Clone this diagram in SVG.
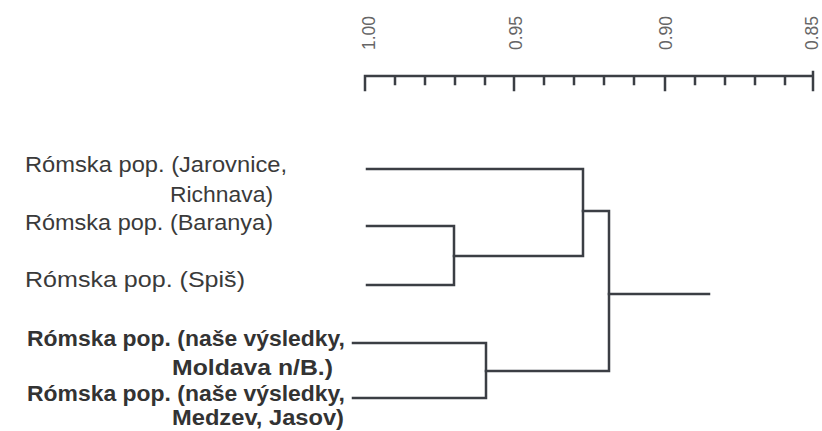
<svg xmlns="http://www.w3.org/2000/svg" width="822" height="431" viewBox="0 0 822 431">
<style>
.lbl{font-family:"Liberation Sans",Arial,sans-serif;font-size:22.5px;fill:#3a3a3a}
.b{font-weight:bold;fill:#333}
.tk{font-family:"Liberation Sans",Arial,sans-serif;font-size:17.5px;fill:#666}
.ln{fill:none;stroke:#3b3e44;stroke-width:2.5;stroke-linecap:square}
</style>
<rect width="822" height="431" fill="#fff"/>
<g id="axis">
<path class="ln" d="M365,76 H813 M365,76 V90 M514,76 V90 M665,76 V90 M813,72 V90 M395,76 V84 M425,76 V84 M455,76 V84 M485,76 V84 M544,76 V84 M574,76 V84 M604,76 V84 M634,76 V84 M695,76 V84 M725,76 V84 M755,76 V84 M785,76 V84"/>
<text class="tk" transform="translate(375,50) rotate(-90)">1.00</text>
<text class="tk" transform="translate(522,50) rotate(-90)">0.95</text>
<text class="tk" transform="translate(672,50) rotate(-90)">0.90</text>
<text class="tk" transform="translate(818,50) rotate(-90)">0.85</text>
</g>
<g id="leaf1"><text class="lbl" x="25" y="172" textLength="262" lengthAdjust="spacingAndGlyphs">Rómska pop. (Jarovnice,</text><text class="lbl" x="170" y="202" textLength="103" lengthAdjust="spacingAndGlyphs">Richnava)</text></g>
<g id="leaf2"><text class="lbl" x="25" y="230" textLength="248" lengthAdjust="spacingAndGlyphs">Rómska pop. (Baranya)</text></g>
<g id="leaf3"><text class="lbl" x="25" y="287" textLength="220" lengthAdjust="spacingAndGlyphs">Rómska pop. (Spiš)</text></g>
<g id="leaf4"><text class="lbl b" x="27" y="346" textLength="318" lengthAdjust="spacingAndGlyphs">Rómska pop. (naše výsledky,</text><text class="lbl b" x="172" y="375" textLength="161" lengthAdjust="spacingAndGlyphs">Moldava n/B.)</text></g>
<g id="leaf5"><text class="lbl b" x="27" y="401" textLength="318" lengthAdjust="spacingAndGlyphs">Rómska pop. (naše výsledky,</text><text class="lbl b" x="172" y="425" textLength="172" lengthAdjust="spacingAndGlyphs">Medzev, Jasov)</text></g>
<g id="connectors">
<path class="ln" d="M367,169 H583 V256 H454"/>
<path class="ln" d="M367,226 H454 V285 H367"/>
<path class="ln" d="M583,211 H609 V371 H486"/>
<path class="ln" d="M353,343 H486 V398 H353"/>
<path class="ln" d="M609,294 H709"/>
</g>
</svg>
